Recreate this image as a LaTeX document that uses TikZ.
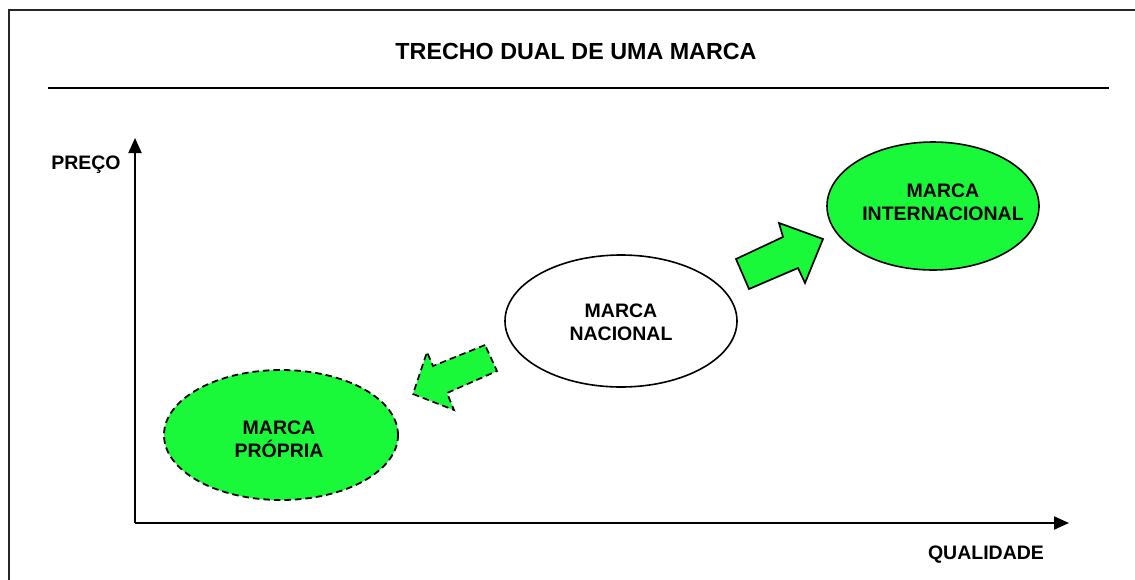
\documentclass[tikz,border=0pt]{standalone}
\usepackage{fontspec}
\setmainfont{Liberation Sans}
\usetikzlibrary{shapes.geometric,arrows.meta}
\definecolor{brandgreen}{RGB}{26,248,58}
\tikzset{
  lbl/.style={font=\fontsize{19.5}{23}\selectfont\bfseries, align=center, inner sep=0pt},
  brandell/.style={ellipse, draw=black, line width=1.6pt, inner sep=0pt},
  dashedge/.style={dash pattern=on 6.5pt off 4pt},
  axisline/.style={line width=2pt, -{Triangle[length=15pt,width=13pt]}},
  bigarrow/.style={fill=brandgreen, draw=black, line width=1.7pt, line join=miter},
}
\begin{document}
\begin{tikzpicture}[x=1pt,y=-1pt]
\useasboundingbox (0,0) rectangle (1135,579);
\clip (0,0) rectangle (1135,579);
\fill[white] (0,0) rectangle (1135,579);
% frame
\draw[line width=2pt, draw=black!85] (9,600) -- (9,10) -- (1150,10);
% title
\node[lbl, font=\fontsize{23.3}{26}\selectfont\bfseries] (title) at (576,51) {TRECHO DUAL DE UMA MARCA};
\coordinate (rl) at (48,88);
\coordinate (rr) at (1109,88);
\draw[line width=2pt] (rl) -- (rr);
% axes
\coordinate (o) at (135,523);
\coordinate (ytip) at (135,138);
\coordinate (xtip) at (1069,523);
\draw[axisline] (o) -- (ytip);
\draw[axisline] (o) -- (xtip);
\node[lbl] (preco) at (86,165) {PREÇO};
\node[lbl] (qual) at (986,555) {QUALIDADE};
% ellipses
\node[brandell, fill=white, minimum width=232pt, minimum height=132pt] (nac) at (621,321) {};
\node[lbl] (nact) at (621,322) {MARCA\\NACIONAL};
\node[brandell, fill=brandgreen, minimum width=212pt, minimum height=128pt] (int) at (933,206) {};
\node[lbl] (intt) at (943,202) {MARCA\\INTERNACIONAL};
\node[brandell, fill=brandgreen, dashedge, line width=1.8pt, minimum width=234pt, minimum height=130pt] (prop) at (281,435) {};
\node[lbl] (propt) at (279,439) {MARCA\\PRÓPRIA};
% block arrows
\draw[bigarrow] (736,259) -- (783,237) -- (779,223) -- (823,239) -- (805,283) -- (798,268) -- (749,289) -- cycle;
\draw[bigarrow, dashedge] (485,345) -- (433,366) -- (427,352) -- (413,394) -- (454,410) -- (447,393) -- (497,371) -- cycle;
\end{tikzpicture}
\end{document}
